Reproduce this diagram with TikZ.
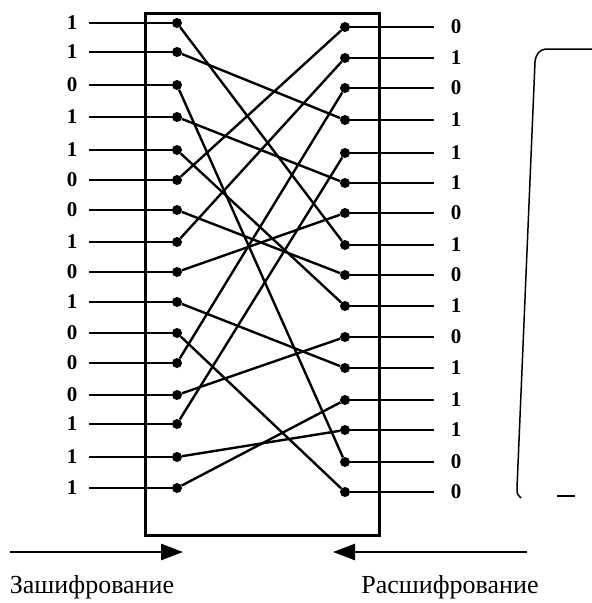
\documentclass[tikz,border=0pt]{standalone}
\usepackage{fontspec}
\setmainfont{Liberation Serif}
\usetikzlibrary{arrows.meta}
\begin{document}
\begin{tikzpicture}[x=1pt,y=-1pt,
  wire/.style={line width=2.4pt},
  dotnode/.style={circle,fill=black,inner sep=0pt,minimum size=10pt},
  bit/.style={font=\bfseries\fontsize{21}{21}\selectfont,inner sep=0pt},
  caption/.style={font=\fontsize{26}{26}\selectfont,inner sep=0pt},
  flow/.style={line width=2.6pt,-{Triangle[length=22pt,width=16pt]}},
  bracket/.style={line width=1.5pt}]
\useasboundingbox (0,0) rectangle (592,603);
% box
\node[draw,line width=3pt,minimum width=234pt,minimum height=522pt,inner sep=0pt] (box) at (262,274) {};
% left side
\foreach \i/\y/\b in {1/23/1,2/52/1,3/85/0,4/117/1,5/150/1,6/180/0,7/210/0,8/242/1,
                      9/272/0,10/302/1,11/333/0,12/363/0,13/395/0,14/424/1,15/457/1,16/488/1}{
  \node[bit] (la\i) at (72,\y) {\b};
  \node[dotnode] (L\i) at (177,\y) {};
  \draw[wire,shorten <=12pt] (la\i.east) -- (L\i);
}
% right side
\foreach \j/\y/\b in {1/27/0,2/58/1,3/88/0,4/120/1,5/153/1,6/183/1,7/213/0,8/245/1,
                      9/275/0,10/306/1,11/337/0,12/368/1,13/400/1,14/430/1,15/462/0,16/492/0}{
  \node[dotnode] (R\j) at (345,\y) {};
  \node[bit] (ra\j) at (456,\y) {\b};
  \draw[wire,shorten >=17pt] (R\j) -- (ra\j.west);
}
% permutation
\foreach \a/\b in {1/8,2/4,3/15,4/6,5/10,6/1,7/9,8/2,9/7,10/12,11/16,12/3,13/11,14/5,15/14,16/13}{
  \draw[wire] (L\a) -- (R\b);
}
% arrows and captions
\coordinate (e0) at (10,552);
\coordinate (e1) at (183,552);
\coordinate (d0) at (527,552);
\coordinate (d1) at (333,552);
\draw[flow] (e0) -- (e1);
\draw[flow] (d0) -- (d1);
\node[caption] (enc) at (92,587) {Зашифрование};
\node[caption] (dec) at (450,587) {Расшифрование};
% bracket at right
\draw[bracket] (592,49) -- (548,49) .. controls (539,49) and (536,54) .. (535,62) -- (517,488) .. controls (517,494) .. (521,498);
\draw[bracket] (557,496) -- (575,496);
\end{tikzpicture}
\end{document}
